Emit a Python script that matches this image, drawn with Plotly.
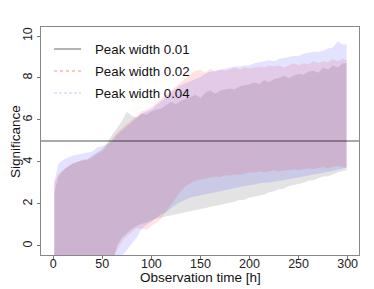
import plotly.graph_objects as go

# Observation time [h]
time_h = [1, 5, 10, 15, 20, 25, 30, 35, 40, 45, 50, 55, 60, 65, 70, 75, 80, 85, 90, 95,
          100, 105, 110, 115, 120, 125, 130, 135, 140, 145, 150, 155, 160, 165, 170, 175, 180, 185, 190, 195,
          200, 205, 210, 215, 220, 225, 230, 235, 240, 245, 250, 255, 260, 265, 270, 275, 280, 285, 290, 295, 299]

# Peak width 0.01 band
upper_001 = [2.5, 3.3, 3.6, 3.75, 3.95, 4.0, 4.1, 4.12, 4.3, 4.45, 4.6, 4.9, 5.3, 5.6, 5.95, 6.4, 6.2, 6.1, 6.3, 6.25,
             6.4, 6.5, 6.55, 6.7, 6.85, 6.75, 6.9, 7.0, 7.1, 7.2, 7.05, 7.3, 7.4, 7.25, 7.4, 7.45, 7.5, 7.45, 7.6, 7.65,
             7.7, 7.8, 7.7, 7.9, 7.8, 7.95, 8.0, 8.1, 8.0, 8.1, 8.2, 8.15, 8.3, 8.35, 8.25, 8.5, 8.4, 8.6, 8.5, 8.7, 8.7]
lower_001 = [-3, -3, -3, -3, -3, -3, -3, -3, -3, -3, -2.5, -2, -1.2, 0.0, 0.4, 0.6, 0.8, 0.95, 1.05, 1.1,
             1.2, 1.3, 1.35, 1.4, 1.45, 1.5, 1.55, 1.6, 1.62, 1.7, 1.72, 1.8, 1.85, 1.88, 1.95, 2.0, 2.05, 2.1, 2.18, 2.2,
             2.3, 2.35, 2.4, 2.45, 2.55, 2.6, 2.7, 2.72, 2.85, 2.9, 2.95, 3.0, 3.1, 3.12, 3.2, 3.3, 3.32, 3.4, 3.5, 3.55, 3.6]

# Peak width 0.02 band
upper_002 = [3.0, 3.4, 3.6, 3.8, 3.9, 4.0, 4.05, 4.1, 4.2, 4.4, 4.5, 4.8, 5.1, 5.4, 5.6, 5.8, 6.0, 6.2, 6.4, 6.5,
             6.6, 6.8, 7.0, 7.2, 7.4, 7.6, 7.8, 8.0, 8.2, 8.35, 8.4, 8.25, 8.45, 8.3, 8.4, 8.35, 8.4, 8.5, 8.4, 8.5,
             8.45, 8.5, 8.55, 8.5, 8.6, 8.55, 8.6, 8.5, 8.6, 8.7, 8.6, 8.7, 8.65, 8.8, 8.7, 8.8, 8.75, 8.9, 8.8, 8.9, 8.85]
lower_002 = [-3, -3, -3, -3, -3, -3, -3, -3, -3, -3, -2.5, -1.5, -0.6, -0.2, 0.2, 0.45, 0.65, 0.85, 0.8, 0.75,
             0.95, 1.1, 1.3, 1.65, 2.0, 2.3, 2.6, 2.85, 2.98, 3.1, 3.15, 3.2, 3.25, 3.3, 3.28, 3.35, 3.35, 3.4, 3.38, 3.45,
             3.5, 3.48, 3.55, 3.5, 3.55, 3.6, 3.55, 3.6, 3.6, 3.65, 3.6, 3.65, 3.7, 3.65, 3.7, 3.75, 3.7, 3.75, 3.8, 3.75, 3.7]

# Peak width 0.04 band
upper_004 = [3.0, 3.9, 4.1, 4.2, 4.3, 4.35, 4.4, 4.45, 4.5, 4.7, 4.75, 4.85, 5.0, 5.3, 5.5, 5.7, 5.9, 6.1, 6.3, 6.4,
             6.5, 6.7, 6.9, 7.1, 7.3, 7.5, 7.65, 7.75, 7.85, 7.95, 8.05, 8.2, 8.3, 8.35, 8.4, 8.45, 8.5, 8.55, 8.55, 8.6,
             8.6, 8.7, 8.75, 8.8, 8.85, 8.8, 8.9, 8.95, 9.0, 9.05, 9.05, 9.15, 9.2, 9.25, 9.25, 9.3, 9.4, 9.45, 9.75, 9.6, 9.6]
lower_004 = [-3, -3, -3, -3, -3, -3, -3, -3, -3, -3, -3, -3, -2.0, -0.8, -0.5, -0.2, 0.1, 0.4, 0.8, 1.0,
             1.15, 1.35, 1.5, 1.6, 1.8, 1.95, 2.1, 2.2, 2.3, 2.35, 2.4, 2.45, 2.5, 2.55, 2.6, 2.65, 2.7, 2.75, 2.8, 2.85,
             2.9, 2.92, 2.98, 3.0, 3.02, 3.05, 3.1, 3.12, 3.18, 3.2, 3.25, 3.3, 3.35, 3.4, 3.45, 3.48, 3.52, 3.58, 3.62, 3.68, 3.75]

series_names = ["Peak width 0.01", "Peak width 0.02", "Peak width 0.04"]
threshold = 5
x_ticks = [0, 50, 100, 150, 200, 250, 300]
y_ticks = [0, 2, 4, 6, 8, 10]

fills = ["rgba(0,0,0,0.11)", "rgba(255,0,0,0.11)", "rgba(0,0,255,0.11)"]
bands = [(upper_001, lower_001), (upper_002, lower_002), (upper_004, lower_004)]

fig = go.Figure()
for (up, lo), col, name in zip(bands, fills, series_names):
    fig.add_trace(go.Scatter(
        x=time_h + time_h[::-1], y=up + lo[::-1],
        fill="toself", fillcolor=col, line=dict(width=0),
        mode="lines", hoverinfo="skip", showlegend=False, name=name))

font = "Liberation Sans, Arial, Helvetica, sans-serif"

fig.add_shape(type="line", xref="paper", yref="y", x0=0, x1=1, y0=threshold, y1=threshold,
              line=dict(color="rgba(0,0,0,0.45)", width=1.5))

# legend drawn manually (R-style)
leg_styles = [dict(color="#666666", width=1, dash="solid"),
              dict(color="rgba(255,0,0,0.3)", width=1.5, dash="dot"),
              dict(color="rgba(0,0,255,0.22)", width=1.2, dash="3px,2px")]
leg_y = [0.9035, 0.807, 0.7105]
for name, st, yy in zip(series_names, leg_styles, leg_y):
    fig.add_shape(type="line", xref="paper", yref="paper", x0=0.041, x1=0.126, y0=yy, y1=yy, line=st)
    fig.add_annotation(x=0.164, y=yy, xref="paper", yref="paper", text=name, showarrow=False,
                       xanchor="left", yanchor="middle", font=dict(family=font, size=13.3, color="#111111"))

# axis titles
fig.add_annotation(x=0.5, y=-0.097, xref="paper", yref="paper", text="Observation time [h]",
                   showarrow=False, xanchor="center", yanchor="middle",
                   font=dict(family=font, size=13.5, color="#111111"))
fig.add_annotation(x=-0.082, y=0.5, xref="paper", yref="paper", text="Significance", textangle=-90,
                   showarrow=False, xanchor="center", yanchor="middle",
                   font=dict(family=font, size=13.5, color="#111111"))

fig.update_layout(
    width=374, height=289,
    margin=dict(l=33, r=23, t=19, b=42, autoexpand=False),
    paper_bgcolor="white", plot_bgcolor="white",
    showlegend=False,
    font=dict(family=font, size=12.5, color="#222222"),
)
fig.update_xaxes(range=[-12.5, 311.6], tickvals=x_ticks, ticks="outside", ticklen=3, tickcolor="#777777",
                 automargin=False, ticklabelstandoff=-6,
                 showgrid=False, zeroline=False, showline=True, mirror=True, linecolor="#888888", linewidth=1,
                 tickfont=dict(size=12.5, color="#222222"))
fig.update_yaxes(range=[-0.44, 10.43], tickvals=y_ticks, ticks="outside", ticklen=3, tickcolor="#777777",
                 tickangle=-90, automargin=False,
                 showgrid=False, zeroline=False, showline=True, mirror=True, linecolor="#888888", linewidth=1,
                 tickfont=dict(size=12.5, color="#222222"))

fig.write_html("out.html")
